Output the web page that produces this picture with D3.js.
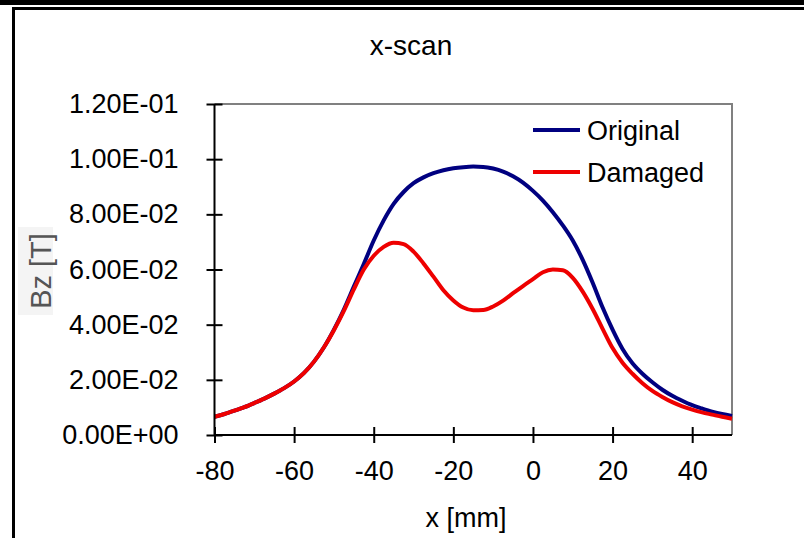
<!DOCTYPE html>
<html>
<head>
<meta charset="utf-8">
<script src="https://cdn.jsdelivr.net/npm/d3@7/dist/d3.min.js"></script>
<style>
  html, body { margin: 0; padding: 0; background: #ffffff; }
  svg { display: block; }
  text { font-family: "Liberation Sans", Arial, sans-serif; }
</style>
</head>
<body>
<svg id="chart" width="804" height="538"></svg>
<script>
// Scan positions along x [mm]
const positions = [
  -80, -77.5, -75, -72.5, -70, -67.5, -65, -62.5, -60, -57.5,
  -55, -52.5, -50, -47.5, -45, -42.5, -40, -37.5, -35, -32.5,
  -30, -27.5, -25, -22.5, -20, -17.5, -15, -12.5, -10, -7.5,
  -5, -2.5, 0, 2.5, 5, 7.5, 10, 12.5, 15, 17.5,
  20, 22.5, 25, 27.5, 30, 32.5, 35, 37.5, 40, 42.5,
  45, 47.5, 50
];

// Bz [T] of the undamaged magnet
const original = [
  0.0066, 0.0076, 0.0088, 0.0101, 0.0116, 0.0132, 0.0150, 0.0170, 0.0194, 0.0225,
  0.0266, 0.0318, 0.0382, 0.0455, 0.0538, 0.0620, 0.0705, 0.0778, 0.0838, 0.0881,
  0.0913, 0.0934, 0.0949, 0.0960, 0.0967, 0.0971, 0.0973, 0.0972, 0.0966, 0.0955,
  0.0938, 0.0915, 0.0885, 0.0850, 0.0808, 0.0760, 0.0705, 0.0635, 0.0552, 0.0462,
  0.0382, 0.0312, 0.0260, 0.0222, 0.0191, 0.0164, 0.0142, 0.0124, 0.0108, 0.0096,
  0.0085, 0.0076, 0.0069
];

// Bz [T] of the damaged magnet
const damaged = [
  0.0066, 0.0076, 0.0088, 0.0101, 0.0116, 0.0132, 0.0150, 0.0170, 0.0194, 0.0225,
  0.0266, 0.0318, 0.0380, 0.0450, 0.0528, 0.0600, 0.0650, 0.0682, 0.0697, 0.0692,
  0.0665, 0.0622, 0.0574, 0.0525, 0.0488, 0.0462, 0.0452, 0.0453, 0.0466, 0.0487,
  0.0514, 0.0540, 0.0565, 0.0590, 0.0600, 0.0597, 0.0570, 0.0520, 0.0457, 0.0385,
  0.0315, 0.0262, 0.0222, 0.0188, 0.0160, 0.0138, 0.0119, 0.0104, 0.0092, 0.0082,
  0.0074, 0.0066, 0.0059
];

const seriesNames = ["Original", "Damaged"];
const seriesColors = ["#000080", "#ee0000"];

const xTicks = [-80, -60, -40, -20, 0, 20, 40];
const yTicks = [0, 0.02, 0.04, 0.06, 0.08, 0.10, 0.12];

const svg = d3.select("#chart");

// Excel-like scientific notation: 1.20E-01
function sci(v) {
  const s = v.toExponential(2);
  const [m, e] = s.split("e");
  const n = parseInt(e, 10);
  const sign = n < 0 ? "-" : "+";
  return m + "E" + sign + String(Math.abs(n)).padStart(2, "0");
}

// Surrounding frame
svg.append("rect").attr("x", 0).attr("y", 0).attr("width", 804).attr("height", 5).attr("fill", "#000");
svg.append("rect")
  .attr("x", 13.5).attr("y", 8.5).attr("width", 820).attr("height", 560)
  .attr("fill", "none").attr("stroke", "#000").attr("stroke-width", 3);

const x = d3.scaleLinear().domain([-80, 50]).range([214.5, 732]);
const y = d3.scaleLinear().domain([0, 0.12]).range([435, 104]);

// Plot area border (top and right)
svg.append("path")
  .attr("d", `M${x(-80)},${y(0.12)}H${x(50)}V${y(0)}`)
  .attr("fill", "none").attr("stroke", "#808080").attr("stroke-width", 2);

// Curves
const line = d3.line()
  .x((d, i) => x(positions[i]))
  .y(d => y(d))
  .curve(d3.curveMonotoneX);

[original, damaged].forEach((vals, k) => {
  svg.append("path")
    .datum(vals)
    .attr("d", line)
    .attr("fill", "none")
    .attr("stroke", seriesColors[k])
    .attr("stroke-width", 4)
    .attr("stroke-linejoin", "round");
});

// Y axis
const yAxis = svg.append("g")
  .attr("transform", `translate(${x(-80)},0)`)
  .call(d3.axisLeft(y).tickValues(yTicks).tickFormat(sci).tickSize(8).tickPadding(28));
yAxis.select(".domain").attr("stroke", "#000").attr("stroke-width", 2).attr("d", `M0,${y(0.12)}V${y(0)}`);
yAxis.selectAll(".tick line").attr("x1", -8).attr("x2", 8).attr("stroke", "#000").attr("stroke-width", 2);
yAxis.selectAll(".tick text").attr("font-size", 27).attr("fill", "#000")
  .attr("font-family", "Liberation Sans, Arial, sans-serif");

// X axis
const xAxis = svg.append("g")
  .attr("transform", `translate(0,${y(0)})`)
  .call(d3.axisBottom(x).tickValues(xTicks).tickFormat(d => String(d)).tickSize(8).tickPadding(18));
xAxis.select(".domain").attr("stroke", "#000").attr("stroke-width", 2).attr("d", `M${x(-80)},0H${x(50)}`);
xAxis.selectAll(".tick line").attr("y1", -8).attr("y2", 8).attr("stroke", "#000").attr("stroke-width", 2);
xAxis.selectAll(".tick text").attr("font-size", 27).attr("fill", "#000")
  .attr("font-family", "Liberation Sans, Arial, sans-serif");

// Title
svg.append("text")
  .attr("x", 411).attr("y", 55)
  .attr("text-anchor", "middle")
  .attr("font-size", 28)
  .text("x-scan");

// Axis titles
svg.append("text")
  .attr("x", 466).attr("y", 527)
  .attr("text-anchor", "middle")
  .attr("font-size", 27)
  .text("x [mm]");

const yl = svg.append("g").attr("transform", "translate(53,271) rotate(-90)");
yl.append("rect").attr("x", -44).attr("y", -35).attr("width", 88).attr("height", 35).attr("fill", "#f4f4f4");
yl.append("text")
  .attr("x", 0).attr("y", -2)
  .attr("text-anchor", "middle")
  .attr("font-size", 29)
  .attr("fill", "#555")
  .text("Bz [T]");

// Legend
const legend = svg.append("g");
seriesNames.forEach((name, k) => {
  const ly = 130 + k * 42;
  legend.append("line")
    .attr("x1", 533).attr("x2", 580).attr("y1", ly).attr("y2", ly)
    .attr("stroke", seriesColors[k]).attr("stroke-width", 4);
  legend.append("text")
    .attr("x", 587).attr("y", ly + 10)
    .attr("font-size", 27)
    .text(name);
});
</script>
</body>
</html>
